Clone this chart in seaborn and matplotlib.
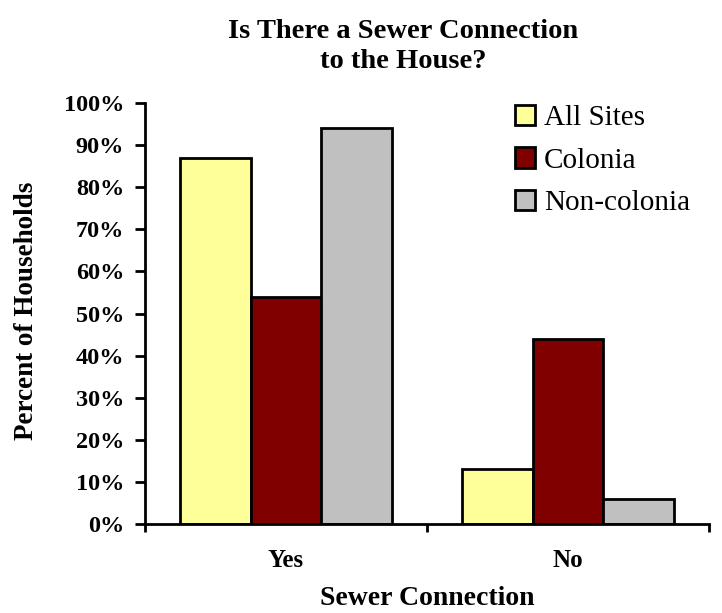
import matplotlib
matplotlib.use("Agg")
import matplotlib.pyplot as plt
from matplotlib.ticker import FuncFormatter, FixedLocator
from matplotlib.transforms import Bbox
import seaborn as sns
import pandas as pd

# Survey results: share of households with a sewer connection
connection = ["Yes", "No"]
site_groups = ["All Sites", "Colonia", "Non-colonia"]
all_sites = [87, 13]
colonia = [54, 44]
non_colonia = [94, 6]
bar_colors = ["#FFFF99", "#800000", "#C0C0C0"]
y_ticks = [0, 10, 20, 30, 40, 50, 60, 70, 80, 90, 100]

df = pd.DataFrame({
    "Sewer Connection": connection * 3,
    "Site": [s for s in site_groups for _ in connection],
    "Percent": all_sites + colonia + non_colonia,
})

sns.set_style("white")
plt.rcParams["font.family"] = ["Liberation Serif", "DejaVu Serif"]
plt.rcParams["text.color"] = "black"
plt.rcParams["axes.labelcolor"] = "black"
plt.rcParams["xtick.color"] = "black"
plt.rcParams["ytick.color"] = "black"

fig = plt.figure(figsize=(7.22, 6.13), dpi=100)
ax = fig.add_axes([145 / 722, 1 - 524 / 613, 564 / 722, 421 / 613])

sns.barplot(data=df, x="Sewer Connection", y="Percent", hue="Site",
            order=connection, hue_order=site_groups, palette=bar_colors,
            saturation=1, edgecolor="black", linewidth=2, width=0.755,
            legend=True, ax=ax)

ax.set_xlim(-0.5, 1.5)
ax.set_ylim(0, 100)
ax.set_yticks(y_ticks)
ax.yaxis.set_major_formatter(FuncFormatter(lambda v, p: f"{v:.0f}%"))
ax.tick_params(axis="y", direction="out", length=7, width=2, pad=8,
               labelsize=17.5, left=True)
for lbl in ax.get_yticklabels():
    lbl.set_fontweight("bold")

ax.xaxis.set_minor_locator(FixedLocator([-0.5, 0.5, 1.5]))
ax.tick_params(axis="x", which="major", length=0, pad=18, labelsize=18)
ax.tick_params(axis="x", which="minor", direction="out", length=6, width=2,
               bottom=True)
for lbl in ax.get_xticklabels():
    lbl.set_fontweight("bold")

for side in ["top", "right"]:
    ax.spines[side].set_visible(False)
for side in ["left", "bottom"]:
    ax.spines[side].set_linewidth(2)
    ax.spines[side].set_color("black")

ax.set_xlabel("Sewer Connection", fontsize=20, fontweight="bold")
ax.xaxis.set_label_coords(0.5, -0.148)
ax.set_ylabel("")

# Vertical axis title, clipped at the top of its layout box
ylab = fig.text(27 / 722, 1 - 311 / 613, "Percent of Households",
                rotation=90, ha="center", va="center", fontsize=19.5,
                fontweight="bold")
ylab.set_clip_box(Bbox.from_extents(0, 0, 722, 613 - 183))
ylab.set_clip_on(True)

handles, labels = ax.get_legend_handles_labels()
if ax.legend_:
    ax.legend_.remove()
leg = fig.legend(handles, labels, loc="upper left",
                 bbox_to_anchor=(503 / 722, 1 - 93 / 613), frameon=False,
                 fontsize=21, handlelength=0.7, handleheight=0.7,
                 handletextpad=0.3, labelspacing=0.55, borderaxespad=0)
for h in leg.legend_handles:
    h.set_edgecolor("black")
    h.set_linewidth(2)

fig.text(403 / 722, 1 - 19 / 613, "Is There a Sewer Connection\nto the House?",
         ha="center", va="top", fontsize=20.5, fontweight="bold",
         linespacing=1.25)

fig.savefig("out.png", dpi=100)
